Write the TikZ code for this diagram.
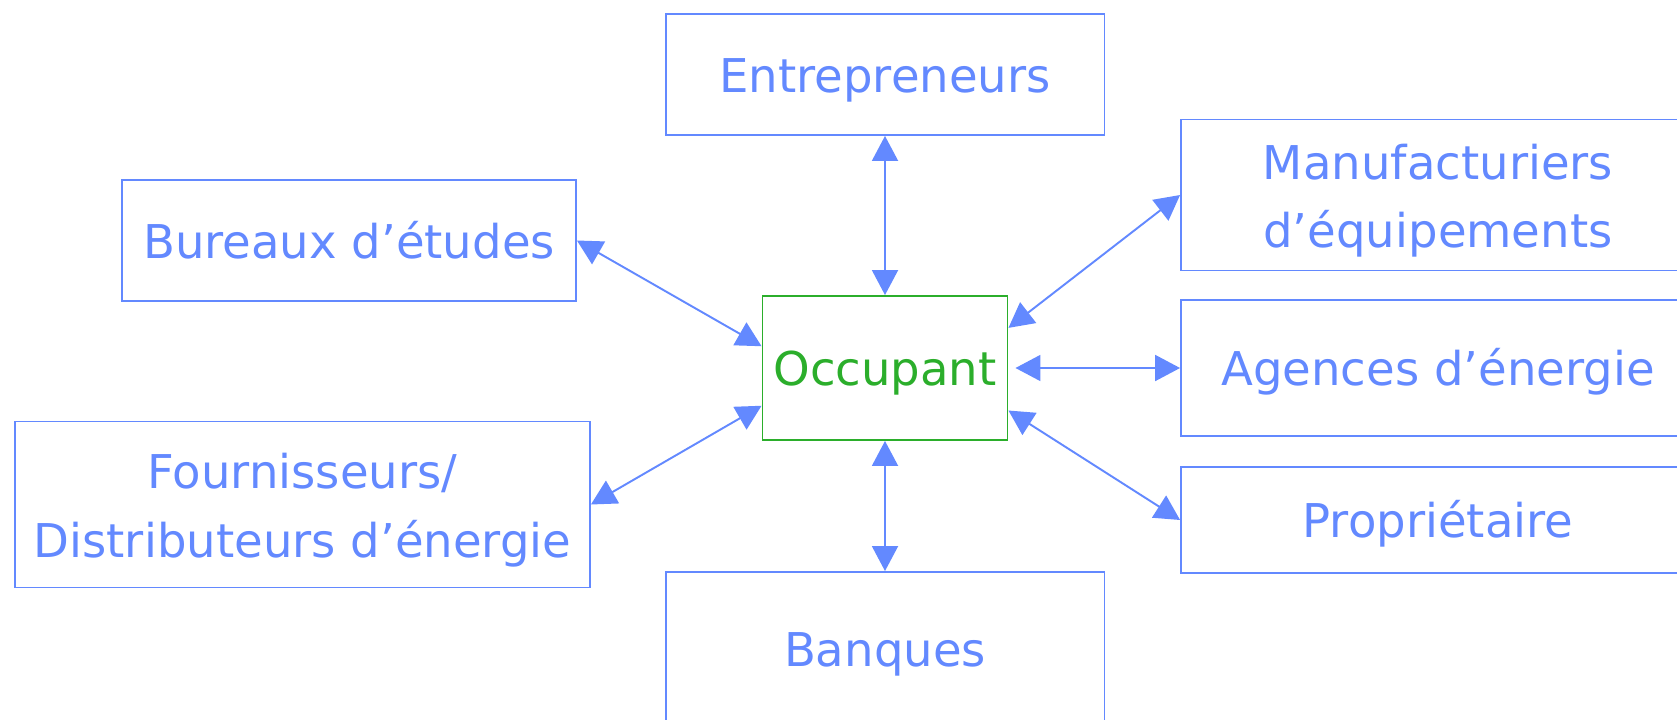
\documentclass[tikz,border=0pt]{standalone}
\usepackage{fontspec}
\setmainfont{DejaVu Sans}
\usepackage{tikz}
\usetikzlibrary{arrows.meta}
\pgfdeclarelayer{nodelayer}
\pgfdeclarelayer{edgelayer}
\pgfsetlayers{nodelayer,edgelayer,main}
\definecolor{actorblue}{RGB}{99,137,255}
\definecolor{occgreen}{RGB}{43,174,43}
\tikzset{
    actor/.style = {draw=actorblue, text=actorblue, line width=1.1pt, inner sep=0pt, align=center,
        text height=26pt, text depth=6pt, font=\fontsize{26.5}{39}\selectfont},
    twolines/.style = {text height=66pt, text depth=6pt},
    occupant/.style = {actor, draw=occgreen, text=occgreen}
}

\begin{document}
\begin{tikzpicture}[x=0.02cm, y=-0.02cm,
    link/.style={actorblue, line width=1.1pt, {Triangle[length=0.5cm,width=0.52cm]}-{Triangle[length=0.5cm,width=0.52cm]}}]
    \useasboundingbox (0, 0) rectangle (1677, 720);
    \begin{pgfonlayer}{nodelayer}
        \node [style=occupant, minimum width=4.9cm, minimum height=2.88cm] (0) at (885, 368) {Occupant};
        \node [style=actor, minimum width=8.78cm, minimum height=2.42cm] (1) at (885, 74.5) {Entrepreneurs};
        \node [style=actor, minimum width=9.08cm, minimum height=2.42cm] (2) at (349, 240.5) {Bureaux d’études};
        \node [style=actor, style=twolines, minimum width=11.5cm, minimum height=3.32cm] (3) at (302.5, 504.5) {Fournisseurs/\\Distributeurs d’énergie};
        \node [style=actor, minimum width=8.78cm, minimum height=3.06cm] (4) at (885, 648.5) {Banques};
        \node [style=actor, style=twolines, minimum width=10.28cm, minimum height=3.02cm] (5) at (1438, 195) {Manufacturiers\\d’équipements};
        \node [style=actor, minimum width=10.28cm, minimum height=2.72cm] (6) at (1438, 368) {Agences d’énergie};
        \node [style=actor, minimum width=10.28cm, minimum height=2.12cm] (7) at (1438, 520) {Propriétaire};
    \end{pgfonlayer}
    \begin{pgfonlayer}{edgelayer}
        % every actor talks with the occupant both ways
        \draw [style=link] (1.south) to (0.north);
        \draw [style=link] (2.east) to (0.170);
        \draw [style=link] (3.east) to (0.197);
        \draw [style=link] (0.south) to (4.north);
        \draw [style=link] (0.18) to (5.west);
        \draw [style=link, shorten <=4pt] (0.east) to (6.west);
        \draw [style=link] (0.-19) to (7.west);
    \end{pgfonlayer}
\end{tikzpicture}
\end{document}
